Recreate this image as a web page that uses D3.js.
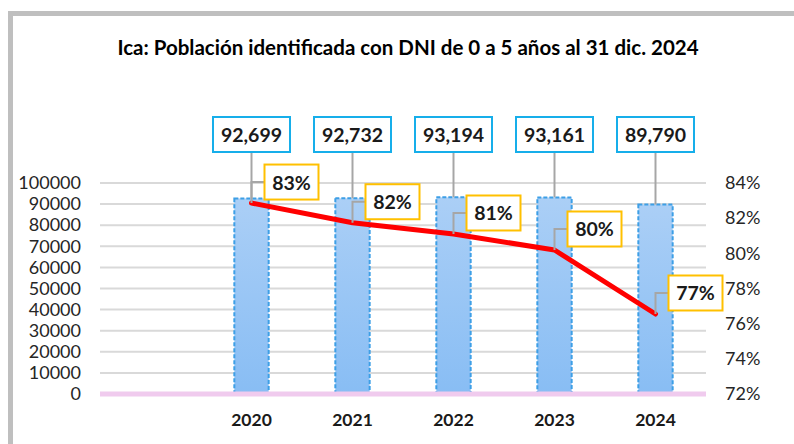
<!DOCTYPE html>
<html>
<head>
<meta charset="utf-8">
<script src="https://cdn.jsdelivr.net/npm/d3@7"></script>
<style>
  body { margin: 0; background: #fff; }
  text { font-family: Lato, "Open Sans", sans-serif; }
</style>
</head>
<body>
<div id="canvas"></div>
<script>
const years = ["2020", "2021", "2022", "2023", "2024"];
const poblacion = [92699, 92732, 93194, 93161, 89790];
const porcentaje = [82.86, 81.74, 81.1, 80.19, 76.55];
const leftTicks = [0, 10000, 20000, 30000, 40000, 50000, 60000, 70000, 80000, 90000, 100000];
const rightTicks = [72, 74, 76, 78, 80, 82, 84];
const title = "Ica: Población identificada con DNI de 0 a 5 años al 31 dic. 2024";

const width = 794;
const height = 444;
const margin = {top: 183, left: 100, bottom: 50, right: 88};

const svg = d3.select("#canvas").append("svg")
  .attr("width", width)
  .attr("height", height);

// gradient for the bars
const defs = svg.append("defs");
const grad = defs.append("linearGradient").attr("id", "barGrad")
  .attr("x1", 0).attr("y1", 0).attr("x2", 0).attr("y2", 1);
grad.append("stop").attr("offset", "0%").attr("stop-color", "#abcff6");
grad.append("stop").attr("offset", "100%").attr("stop-color", "#88bdf4");

// outer frame
svg.append("rect")
  .attr("x", 10.5).attr("y", 13.5)
  .attr("width", 900).attr("height", 600)
  .attr("fill", "none")
  .attr("stroke", "#bfbfbf")
  .attr("stroke-width", 5);

svg.append("text")
  .attr("x", 408).attr("y", 47)
  .attr("text-anchor", "middle")
  .attr("dominant-baseline", "central")
  .style("font-weight", "bold")
  .style("font-size", "20.5px")
  .text(title);

const x = d3.scaleBand()
  .domain([""].concat(years))
  .range([margin.left, width - margin.right])
  .paddingInner(0.66)
  .paddingOuter(0.33);

const yL = d3.scaleLinear()
  .domain([0, 100000])
  .range([height - margin.bottom, margin.top]);

const yR = d3.scaleLinear()
  .domain([72, 84])
  .range([height - margin.bottom, margin.top]);

const cx = d => x(d) + x.bandwidth() / 2;

// gridlines
svg.append("g").selectAll("line").data(leftTicks.filter(d => d > 0)).enter().append("line")
  .attr("x1", margin.left).attr("x2", width - margin.right)
  .attr("y1", d => yL(d)).attr("y2", d => yL(d))
  .attr("stroke", "#d9d9d9")
  .attr("stroke-width", 2);

// axes
const axL = svg.append("g")
  .attr("transform", `translate(${margin.left},0)`)
  .call(d3.axisLeft(yL).tickValues(leftTicks).tickFormat(d => d).tickSize(0).tickPadding(19));
const axR = svg.append("g")
  .attr("transform", `translate(${width - margin.right},0)`)
  .call(d3.axisRight(yR).tickValues(rightTicks).tickFormat(d => d + "%").tickSize(0).tickPadding(19));
[axL, axR].forEach(a => {
  a.select(".domain").remove();
  a.selectAll("text")
    .style("font-size", "18px")
    .style("font-family", "Lato, sans-serif")
    .attr("fill", "#262626");
});

const axX = svg.append("g")
  .attr("transform", `translate(0,${height - margin.bottom})`)
  .call(d3.axisBottom(x).tickSize(0).tickPadding(20));
axX.select(".domain").remove();
axX.selectAll("text")
  .style("font-size", "17.5px")
  .style("font-weight", "bold")
  .style("font-family", "Lato, sans-serif")
  .attr("fill", "#1a1a1a");

// bars
svg.append("g").selectAll("rect").data(years).enter().append("rect")
  .attr("x", d => x(d))
  .attr("y", (d, i) => yL(poblacion[i]))
  .attr("width", x.bandwidth())
  .attr("height", (d, i) => yL(0) - yL(poblacion[i]))
  .attr("fill", "url(#barGrad)")
  .attr("stroke", "#3d9fe6")
  .attr("stroke-width", 2)
  .attr("stroke-dasharray", "4,2");

// baseline
svg.append("line")
  .attr("x1", margin.left).attr("x2", width - margin.right)
  .attr("y1", yL(0)).attr("y2", yL(0))
  .attr("stroke", "#f0cbee")
  .attr("stroke-width", 5);

// value labels (blue boxes)
const boxW = 77, boxH = 35, boxY = 117;
const vl = svg.append("g").selectAll("g").data(years).enter().append("g");
vl.append("line")
  .attr("x1", d => cx(d)).attr("x2", d => cx(d))
  .attr("y1", boxY + boxH)
  .attr("y2", (d, i) => yL(poblacion[i]))
  .attr("stroke", "#a6a6a6").attr("stroke-width", 2);
vl.append("rect")
  .attr("x", d => cx(d) - boxW / 2).attr("y", boxY)
  .attr("width", boxW).attr("height", boxH)
  .attr("fill", "#fff")
  .attr("stroke", "#16aeea").attr("stroke-width", 2);
vl.append("text")
  .attr("x", d => cx(d)).attr("y", boxY + boxH / 2)
  .attr("text-anchor", "middle")
  .attr("dominant-baseline", "central")
  .style("font-size", "19.5px").style("font-weight", "bold")
  .attr("fill", "#1a1a1a")
  .text((d, i) => d3.format(",")(poblacion[i]));

// percentage line
const line = d3.line()
  .x(d => cx(d))
  .y((d, i) => yR(porcentaje[i]));
svg.append("path")
  .datum(years)
  .attr("d", line)
  .attr("fill", "none")
  .attr("stroke", "#ff0000")
  .attr("stroke-width", 5)
  .attr("stroke-linejoin", "round")
  .attr("stroke-linecap", "round");

// percent labels (yellow boxes)
const pW = 54, pH = 35;
const pl = svg.append("g").selectAll("g").data(years).enter().append("g");
pl.append("polyline")
  .attr("points", (d, i) => {
    const px = cx(d), py = yR(porcentaje[i]);
    return `${px},${py} ${px},${py - 21} ${px + 14},${py - 21}`;
  })
  .attr("fill", "none")
  .attr("stroke", "#a6a6a6").attr("stroke-width", 2);
pl.append("rect")
  .attr("x", d => cx(d) + 13)
  .attr("y", (d, i) => yR(porcentaje[i]) - 21 - pH / 2)
  .attr("width", pW).attr("height", pH)
  .attr("fill", "#fff")
  .attr("stroke", "#ffc000").attr("stroke-width", 2);
pl.append("text")
  .attr("x", d => cx(d) + 13 + pW / 2)
  .attr("y", (d, i) => yR(porcentaje[i]) - 21)
  .attr("text-anchor", "middle")
  .attr("dominant-baseline", "central")
  .style("font-size", "19.5px").style("font-weight", "bold")
  .attr("fill", "#1a1a1a")
  .text((d, i) => Math.round(porcentaje[i]) + "%");
</script>
</body>
</html>
